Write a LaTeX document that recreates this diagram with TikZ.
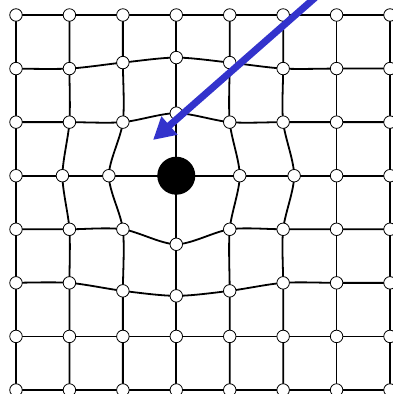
\documentclass[tikz,border=0pt]{standalone}
\usetikzlibrary{arrows.meta}
\definecolor{pullcol}{HTML}{3333CC}

\begin{document}
\begin{tikzpicture}[
    x=1pt, y=-1pt,
    vertex/.style={circle, draw=black, fill=white, line width=0.8pt,
                   minimum size=12.5pt, inner sep=0pt},
    hub/.style={circle, fill=black, minimum size=38pt, inner sep=0pt},
    meshline/.style={line width=1.8pt, black},
    pullarrow/.style={-{Triangle[length=22pt, width=23pt]},
                      line width=7pt, pullcol},
  ]

  \def\colsep{53.43}   % column spacing
  \def\rowsep{53.57}   % row spacing

  \useasboundingbox (0,0) rectangle (393,394);
  \clip (0,0) rectangle (393,394);

  % regular lattice
  \foreach \i in {0,...,7}{
    \foreach \j in {0,...,7}{
      \coordinate (g-\i-\j) at (16+\i*\colsep, 15+\j*\rowsep);
    }
  }
  % points pushed away from the central mass
  \foreach \i/\j/\sx/\sy in {3/1/0/-11, 2/1/0/-6, 4/1/0/-6, 3/2/0/-9,
                             1/3/-7/0, 2/3/-14/0, 4/3/10/0, 5/3/11/0,
                             3/4/0/15, 2/5/0/8, 3/5/0/13, 4/5/0/8}{
    \coordinate (g-\i-\j) at (16+\i*\colsep+\sx, 15+\j*\rowsep+\sy);
  }

  % rows and columns of the mesh
  \foreach \j in {0,...,7}{
    \draw[meshline] plot[smooth] coordinates {(g-0-\j) (g-1-\j) (g-2-\j)
      (g-3-\j) (g-4-\j) (g-5-\j) (g-6-\j) (g-7-\j)};
  }
  \foreach \i in {0,...,7}{
    \draw[meshline] plot[smooth] coordinates {(g-\i-0) (g-\i-1) (g-\i-2)
      (g-\i-3) (g-\i-4) (g-\i-5) (g-\i-6) (g-\i-7)};
  }

  % vertices (centre one is the mass)
  \foreach \i in {0,...,7}{
    \foreach \j in {0,...,7}{
      \ifnum\i=3 \ifnum\j=3 \else
        \node[vertex] (v-\i-\j) at (g-\i-\j) {};
      \fi\else
        \node[vertex] (v-\i-\j) at (g-\i-\j) {};
      \fi
    }
  }
  \node[hub] (mass) at (g-3-3) {};

  % pulling arrow
  \coordinate (pull) at (350,-33);
  \coordinate (aim) at (153,140);
  \draw[pullarrow] (pull) -- (aim);

\end{tikzpicture}
\end{document}
